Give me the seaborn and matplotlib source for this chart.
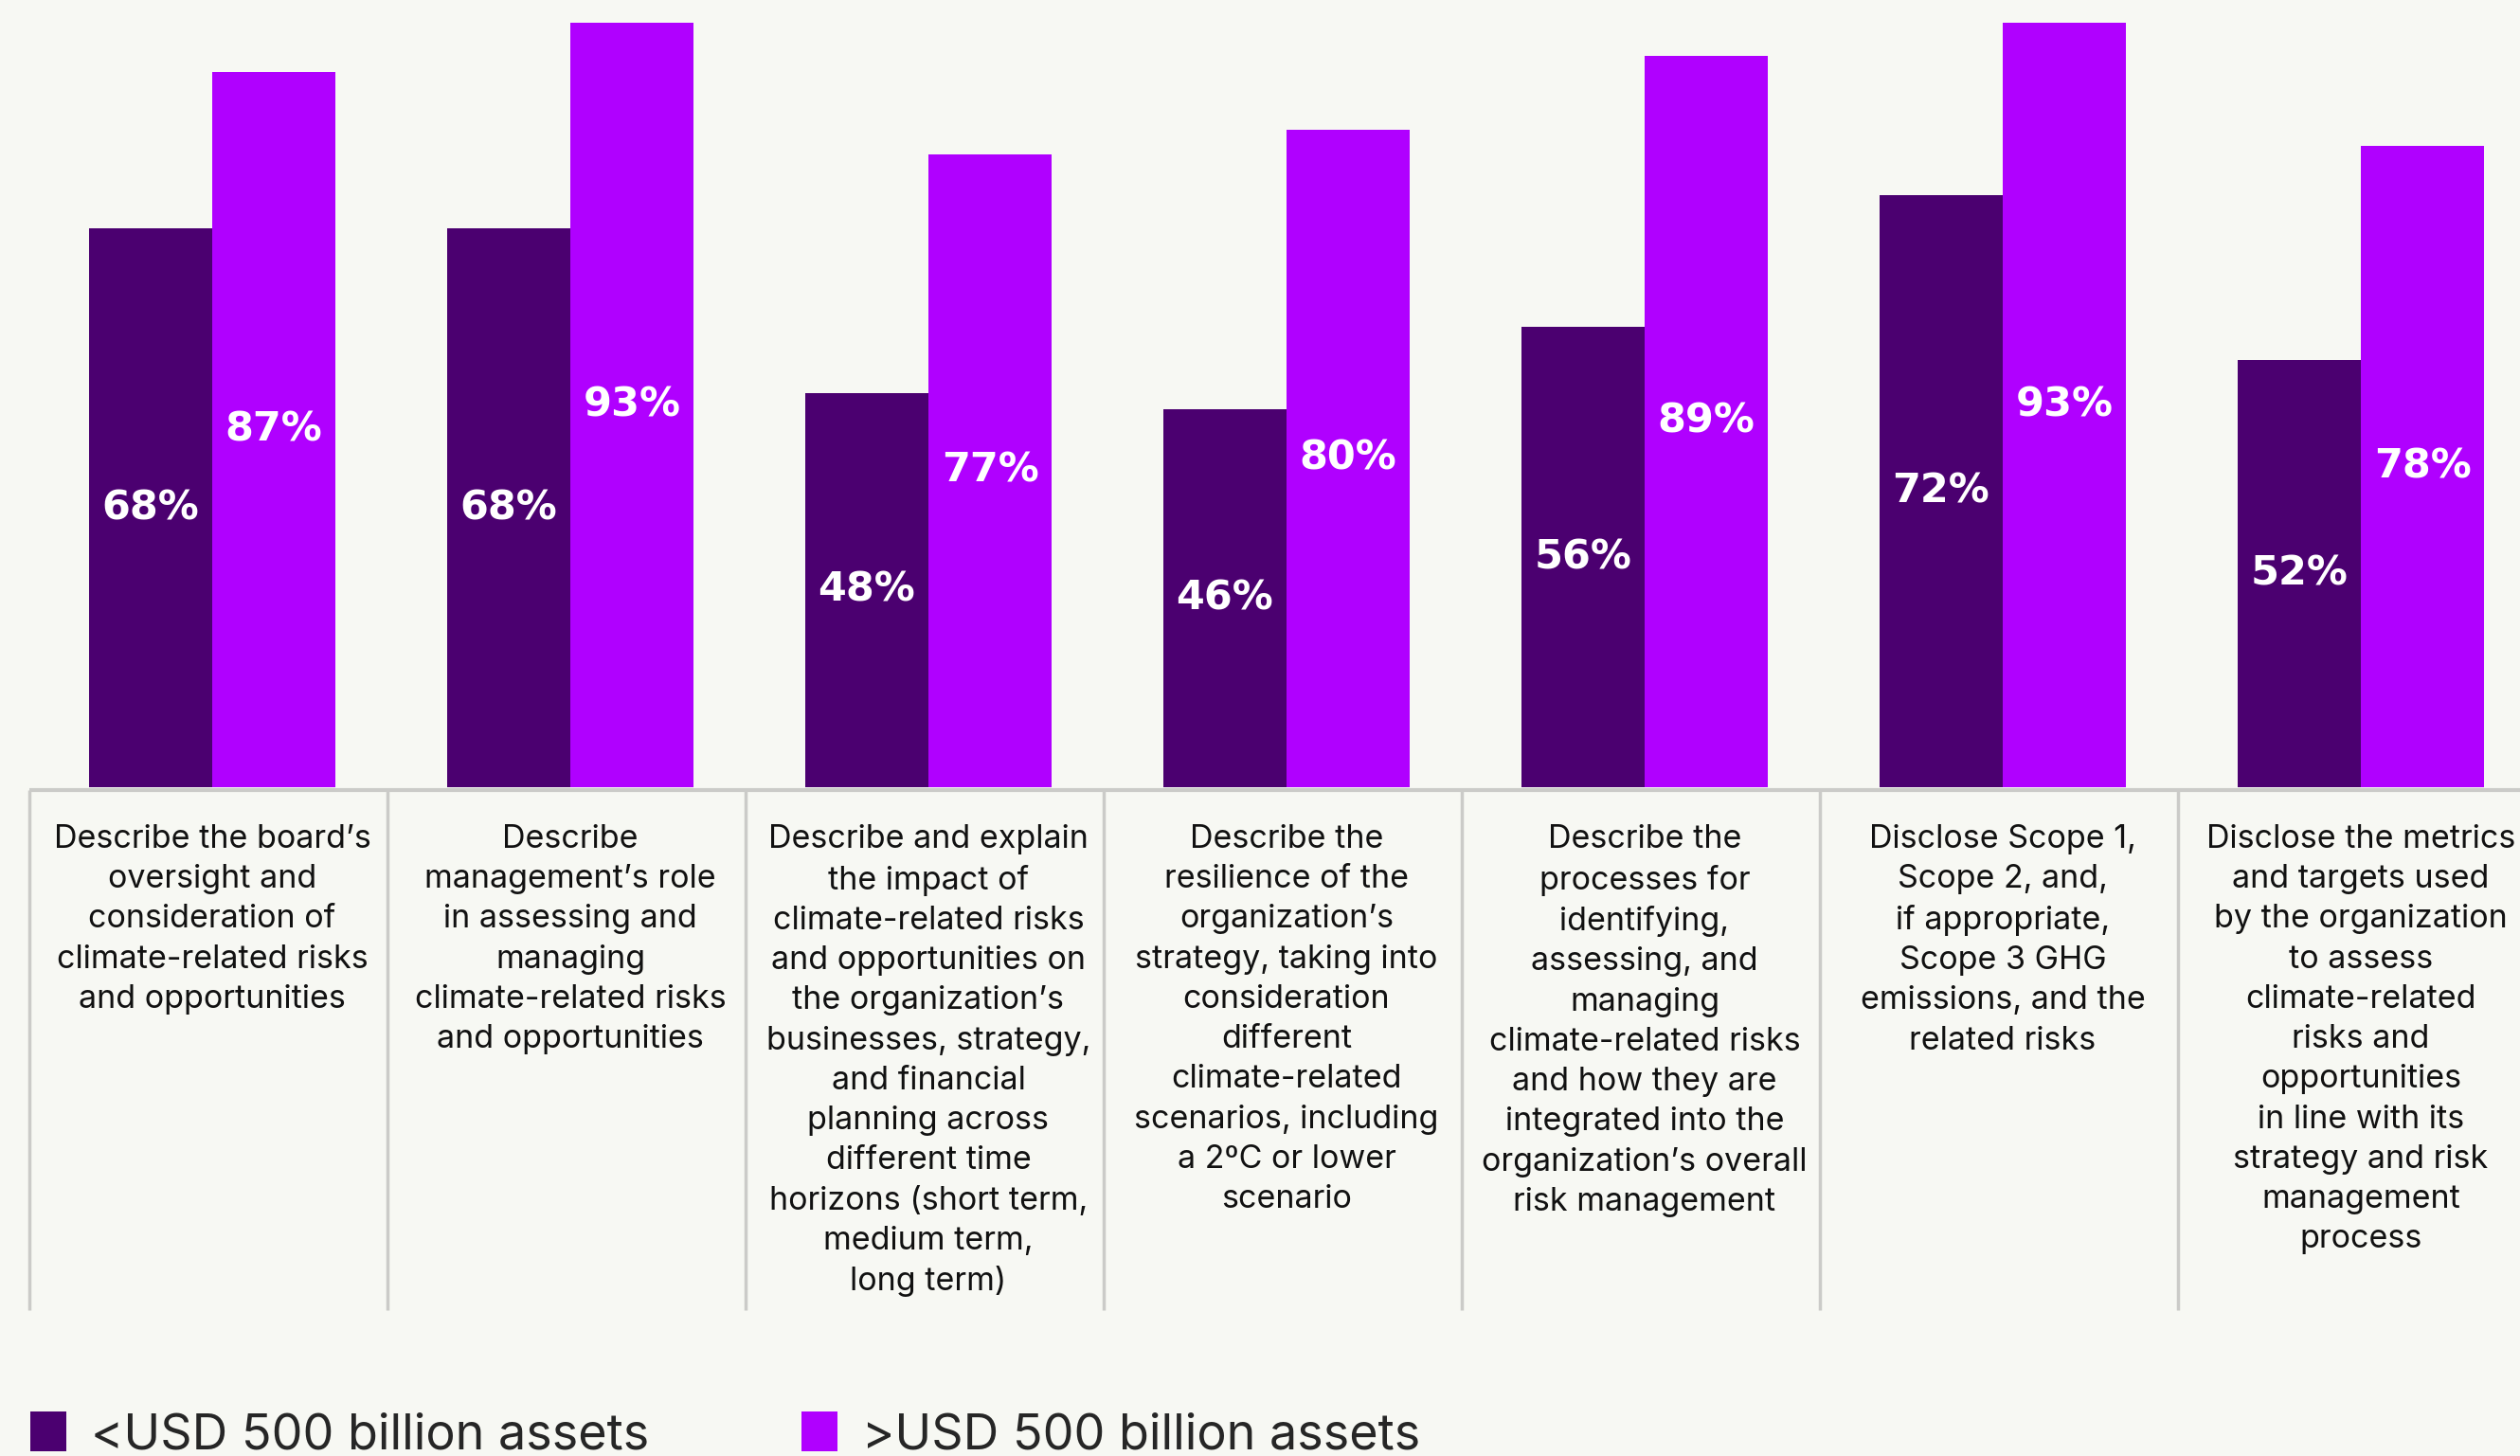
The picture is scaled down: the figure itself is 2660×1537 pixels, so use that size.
import matplotlib
matplotlib.use("Agg")
import matplotlib.pyplot as plt
import seaborn as sns
import pandas as pd

# Recommendation topics (x categories)
categories = [
    "Describe the board’s\noversight and\nconsideration of\nclimate-related risks\nand opportunities",
    "Describe\nmanagement’s role\nin assessing and\nmanaging\nclimate-related risks\nand opportunities",
    "Describe and explain\nthe impact of\nclimate-related risks\nand opportunities on\nthe organization’s\nbusinesses, strategy,\nand financial\nplanning across\ndifferent time\nhorizons (short term,\nmedium term,\nlong term)",
    "Describe the\nresilience of the\norganization’s\nstrategy, taking into\nconsideration\ndifferent\nclimate-related\nscenarios, including\na 2ºC or lower\nscenario",
    "Describe the\nprocesses for\nidentifying,\nassessing, and\nmanaging\nclimate-related risks\nand how they are\nintegrated into the\norganization’s overall\nrisk management",
    "Disclose Scope 1,\nScope 2, and,\nif appropriate,\nScope 3 GHG\nemissions, and the\nrelated risks",
    "Disclose the metrics\nand targets used\nby the organization\nto assess\nclimate-related\nrisks and\nopportunities\nin line with its\nstrategy and risk\nmanagement\nprocess",
]

series_names = ["<USD 500 billion assets", ">USD 500 billion assets"]
small_assets = [68, 68, 48, 46, 56, 72, 52]
large_assets = [87, 93, 77, 80, 89, 93, 78]

BG = "#F7F8F3"
DARK = "#4B0070"
BRIGHT = "#B000FF"
GRID = "#CBCBC8"

df = pd.DataFrame({
    "topic": categories * 2,
    "group": [series_names[0]] * len(categories) + [series_names[1]] * len(categories),
    "value": small_assets + large_assets,
})

sns.set_theme(style="white")
plt.rcParams["font.family"] = ["Inter", "DejaVu Sans"]

W, H, DPI = 2660, 1537, 100
fig = plt.figure(figsize=(W / DPI, H / DPI), dpi=DPI, facecolor=BG)

# Axes: bars' baseline sits at 831 px from the top, axes runs to figure top
base_px = 831
ax = fig.add_axes([0, (H - base_px) / H, 1, base_px / H])
ax.set_facecolor(BG)

sns.barplot(
    data=df, x="topic", y="value", hue="group",
    palette=[DARK, BRIGHT], width=0.69, saturation=1,
    order=categories, hue_order=series_names, ax=ax, linewidth=0,
)

px_per_pct = 8.676
ax.set_ylim(0, base_px / px_per_pct)
pitch = 378
x0 = 224
ax.set_xlim(-x0 / pitch, (W - x0) / pitch)

for cont, vals in zip(ax.containers, [small_assets, large_assets]):
    ax.bar_label(cont, labels=[f"{v}%" for v in vals], label_type="center",
                 color="white", fontsize=31, fontweight="bold",
                 family="DejaVu Sans")

# Category labels as tick labels
ax.set_xticks(range(len(categories)))
ax.set_xticklabels(categories, fontsize=24.5, linespacing=1.41, color="#111111",
                   va="top", ha="center")
ax.tick_params(axis="x", length=0, pad=28)
ax.set_yticks([])
ax.set_xlabel("")
ax.set_ylabel("")
for s in ax.spines.values():
    s.set_visible(False)

# Table rules below the bars
line_y = -3 / px_per_pct
bottom_y = -(1383 - base_px) / px_per_pct
sep_x = [i - 0.51 for i in range(len(categories))]
ax.plot([sep_x[0], ax.get_xlim()[1]], [line_y, line_y], color=GRID, lw=3,
        clip_on=False, solid_capstyle="butt")
for sx in sep_x:
    ax.plot([sx, sx], [line_y, bottom_y], color=GRID, lw=2.5, clip_on=False,
            solid_capstyle="butt")

# Legend along the bottom edge
handles, labels = ax.get_legend_handles_labels()
if ax.get_legend() is not None:
    ax.get_legend().remove()
fig.legend(handles, labels, loc="lower left", bbox_to_anchor=(32 / W, -3 / H),
           ncol=2, frameon=False, fontsize=37.5, handlelength=0.72, handleheight=0.85,
           handletextpad=0.5, columnspacing=3.1, borderpad=0, borderaxespad=0)

fig.savefig("out.png", dpi=DPI, facecolor=BG)
